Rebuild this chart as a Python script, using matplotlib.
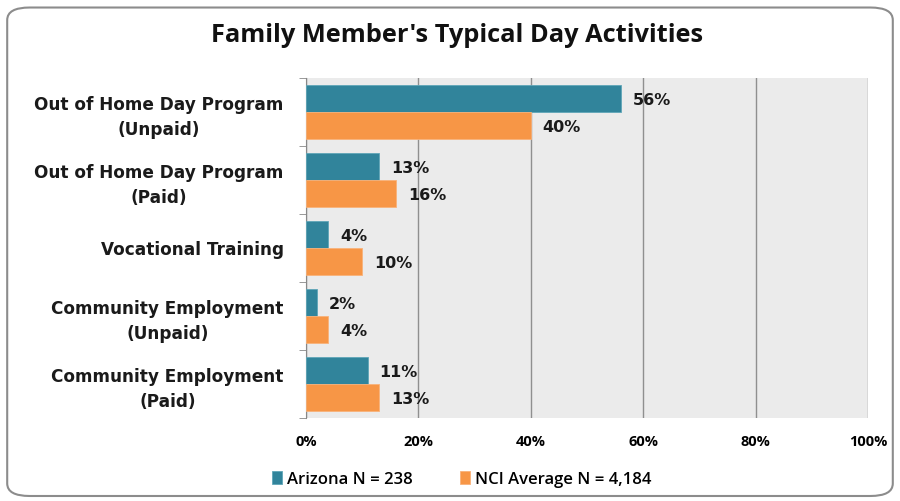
import numpy as np
import matplotlib.pyplot as plt
from matplotlib.patches import FancyBboxPatch

# chart data
categories = ["Out of Home Day Program\n(Unpaid)",
              "Out of Home Day Program\n(Paid)",
              "Vocational Training",
              "Community Employment\n(Unpaid)",
              "Community Employment\n(Paid)"]
arizona = [56, 13, 4, 2, 11]
nci_avg = [40, 16, 10, 4, 13]
series_names = ["Arizona N = 238", "NCI Average N = 4,184"]
xticks = [0, 20, 40, 60, 80, 100]

teal = "#31849B"
orange = "#F79646"

plt.rcParams['font.family'] = ['Open Sans', 'DejaVu Sans']
wide = ['DejaVu Sans']

fig = plt.figure(figsize=(9, 5.01), dpi=100)
fig.patch.set_facecolor("white")

# rounded outer border
border = FancyBboxPatch((0.008, 0.01), 0.984, 0.975,
                        boxstyle="round,pad=0,rounding_size=0.025",
                        transform=fig.transFigure, facecolor="none",
                        edgecolor="#8c8c8c", linewidth=1.5, zorder=-1)
fig.patches.append(border)

ax = fig.add_axes([0.34, 0.1657, 0.6244, 0.6786])
ax.set_facecolor("#EBEBEB")

y = np.arange(len(categories))
h = 0.4
b1 = ax.barh(y - h / 2, arizona, height=h, color=teal, label=series_names[0],
             edgecolor="#5fa6b8", linewidth=0.6, zorder=3)
b2 = ax.barh(y + h / 2, nci_avg, height=h, color=orange, label=series_names[1],
             edgecolor="#f9b27a", linewidth=0.6, zorder=3)

for bars, vals in ((b1, arizona), (b2, nci_avg)):
    for bar, v in zip(bars, vals):
        ax.text(bar.get_width() + 2.1, bar.get_y() + bar.get_height() / 2 + 0.03,
                f"{v}%", va="center", ha="left", fontsize=11.5, family=wide,
                fontweight="bold", color="#1a1a1a", zorder=4)

ax.set_xlim(0, 100)
ax.set_ylim(len(categories) - 0.5, -0.5)
ax.set_xticks(xticks)
ax.set_xticklabels([f"{t}%" for t in xticks], fontsize=10.5, fontweight="bold")
ax.set_yticks(y)
ax.set_yticklabels(categories, fontsize=12.2, fontweight="bold", linespacing=1.5,
                   family=wide, color="#1a1a1a", multialignment="center")
ax.set_yticks(np.arange(len(categories) + 1) - 0.5, minor=True)
ax.tick_params(axis="y", which="major", length=0, pad=16)
ax.tick_params(axis="y", which="minor", length=5, color="#888888")
ax.tick_params(axis="x", length=0, pad=12)

ax.xaxis.grid(True, color="#8f8f8f", linewidth=1.0, zorder=0)
ax.set_axisbelow(True)
for s in ["top", "bottom", "right"]:
    ax.spines[s].set_visible(False)
ax.spines["left"].set_color("#888888")

fig.text(0.508, 0.93, "Family Member's Typical Day Activities",
         ha="center", va="center", fontsize=18.3, fontweight="bold", color="#111111")

fig.legend(handles=[b1, b2], labels=series_names, loc="center",
           bbox_to_anchor=(0.513, 0.043), ncol=2, frameon=False,
           prop={"size": 12, "weight": "semibold"}, handlelength=0.6,
           handleheight=0.8, handletextpad=0.3, columnspacing=2.8)

fig.savefig("out.png", dpi=100)
